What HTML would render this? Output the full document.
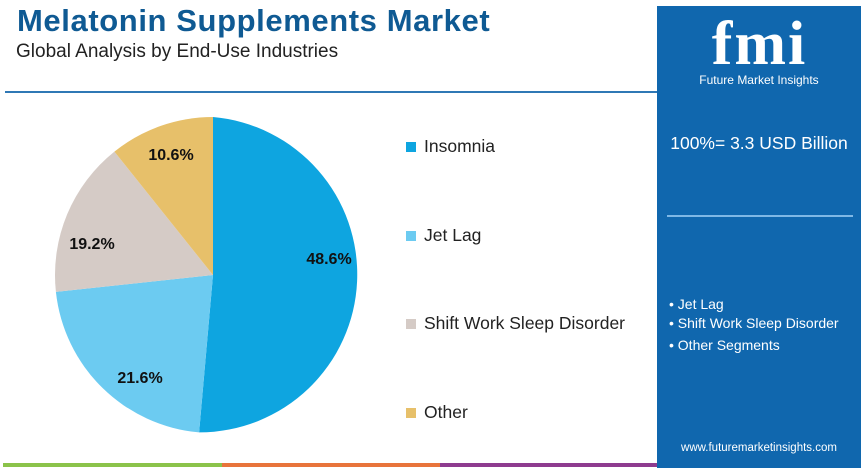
<!DOCTYPE html>
<html><head><style>
body{margin:0;width:867px;height:470px;background:#fff;position:relative;overflow:hidden;font-family:"Liberation Sans",sans-serif}
.a{position:absolute}
</style></head><body>
<div class="a" style="left:17px;top:3px;font-size:31px;font-weight:bold;color:#0f5a93;letter-spacing:0.6px">Melatonin Supplements Market</div>
<div class="a" style="left:16px;top:41px;font-size:19px;color:#222">Global Analysis by End-Use Industries</div>
<div class="a" style="left:5px;top:91px;width:652px;height:2px;background:#2f78b5"></div>
<svg class="a" style="left:0;top:0" width="660" height="470">
<g transform="translate(213,275)">
<path d="M0,0 L0,-158 A158,158 0 0,1 -13.9,157.4 Z" fill="#0ea5e0"/>
<path d="M0,0 L-13.9,157.4 A158,158 0 0,1 -157.1,16.9 Z" fill="#6ccbf1"/>
<path d="M0,0 L-157.1,16.9 A158,158 0 0,1 -98.6,-123.4 Z" fill="#d5cbc6"/>
<path d="M0,0 L-98.6,-123.4 A158,158 0 0,1 0,-158 Z" fill="#e7c06a"/>
</g>
<g font-family="Liberation Sans" font-weight="bold" font-size="16" fill="#111" text-anchor="middle">
<text x="329" y="264">48.6%</text>
<text x="140" y="383">21.6%</text>
<text x="92" y="249">19.2%</text>
<text x="171" y="160">10.6%</text>
</g>
<g font-family="Liberation Sans" font-size="17.5" fill="#222">
<rect x="406" y="142" width="10" height="10" fill="#0ea5e0"/><text x="424" y="152">Insomnia</text>
<rect x="406" y="231" width="10" height="10" fill="#6ccbf1"/><text x="424" y="241">Jet Lag</text>
<rect x="406" y="319" width="10" height="10" fill="#d5cbc6"/><text x="424" y="329">Shift Work Sleep Disorder</text>
<rect x="406" y="408" width="10" height="10" fill="#e7c06a"/><text x="424" y="418">Other</text>
</g>
</svg>
<div class="a" style="left:3px;top:463px;width:219px;height:4px;background:#8bc34a"></div>
<div class="a" style="left:222px;top:463px;width:218px;height:4px;background:#e8743b"></div>
<div class="a" style="left:440px;top:463px;width:218px;height:4px;background:#8e3b8f"></div>
<div class="a" style="left:657px;top:6px;width:204px;height:462px;background:#1067ae;color:#fff">
<div class="a" style="left:30px;top:8px;width:145px;text-align:center;font-family:'Liberation Serif',serif;font-weight:bold;font-size:62px;line-height:60px;letter-spacing:2px">fmi</div>
<div class="a" style="left:0;top:67px;width:204px;text-align:center;font-size:12px">Future Market Insights</div>
<div class="a" style="left:0;top:127px;width:204px;text-align:center;font-size:17.5px">100%= 3.3 USD Billion</div>
<div class="a" style="left:10px;top:209px;width:186px;height:2px;background:#7fb8e6"></div>
<div class="a" style="left:12px;top:289px;font-size:14px;line-height:19px">• Jet Lag<br>• Shift Work Sleep Disorder<br><span style="line-height:24px">• Other Segments</span></div>
<div class="a" style="left:0;top:436px;width:204px;text-align:center;font-size:11.5px">www.futuremarketinsights.com</div>
</div>
</body></html>
